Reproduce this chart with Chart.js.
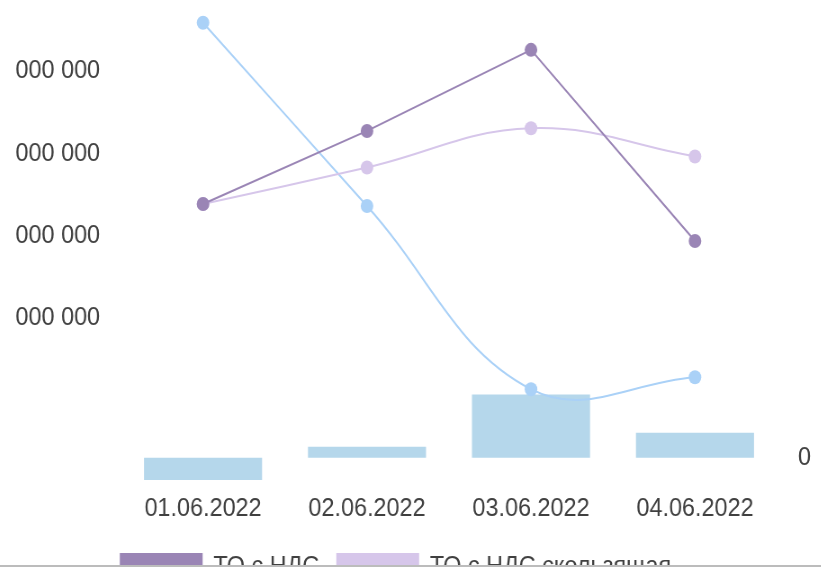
<!DOCTYPE html>
<html>
<head>
<meta charset="utf-8">
<script src="https://cdn.jsdelivr.net/npm/chart.js@4/dist/chart.umd.min.js"></script>
<style>
  html, body { margin: 0; padding: 0; background: #fff; }
  body { width: 821px; height: 570px; overflow: hidden; position: relative; }
  /* panel that clips the chart on the left and at the bottom */
  #frame {
    position: absolute; left: 14px; top: 0; width: 807px; height: 565px;
    overflow: hidden;
  }
  /* chart drawn on a wider canvas, then narrowed horizontally */
  #holder {
    position: absolute; left: -24px; top: -2px; width: 924px; height: 592px;
    transform: scaleX(0.9); transform-origin: 0 0;
  }
  #rule { position: absolute; left: 0; top: 565px; width: 821px; height: 2px; background: #bcbcbc; }
</style>
</head>
<body>
<div id="frame"><div id="holder"><canvas id="c"></canvas></div></div>
<div id="rule"></div>
<script>
// Dates on the category axis
const categories = ['01.06.2022', '02.06.2022', '03.06.2022', '04.06.2022'];

// Turnover with VAT and its running average (left axis)
const toWithVat = [3385000, 4272000, 5256000, 2936000];
const toWithVatRolling = [3385000, 3828500, 4304300, 3962300];
// Comparison turnover (left axis)
const toCompare = [5584000, 3361000, 1138000, 1284000];
// Deviation bars (right axis)
const deltaBars = [-110000, 55000, 315000, 125000];

// Tick values shown on each value axis
const leftTicks = [2000000, 3000000, 4000000, 5000000];
const rightTicks = [0];

const FONT = { family: '"Liberation Sans", Arial, sans-serif', size: 26 };
const TEXT = '#404040';

const fmt = v => String(v).replace(/\B(?=(\d{3})+(?!\d))/g, ' ');

const noEdgePad = s => { s.paddingTop = 0; s.paddingBottom = 0; s.paddingLeft = 0; s.paddingRight = 0; };

// Nudges the bottom legend row a little to the left of the canvas centre
const legendNudge = {
  id: 'legendNudge',
  afterLayout(chart) {
    const lg = chart.legend;
    if (lg) { lg.left -= 11; lg.right -= 11; }
  }
};

new Chart(document.getElementById('c'), {
  type: 'bar',
  data: {
    labels: categories,
    datasets: [
      {
        type: 'line', label: 'ТО с НДС', data: toWithVat, yAxisID: 'yL',
        borderColor: '#9a85b5', backgroundColor: '#9a85b5',
        borderWidth: 2, tension: 0, pointRadius: 7, pointHoverRadius: 7,
        pointBorderWidth: 0
      },
      {
        type: 'line', label: 'ТО с НДС скользящая', data: toWithVatRolling, yAxisID: 'yL',
        borderColor: '#d6c6ea', backgroundColor: '#d6c6ea',
        borderWidth: 2, tension: 0.4, pointRadius: 7, pointHoverRadius: 7,
        pointBorderWidth: 0
      },
      {
        type: 'line', label: 'ТО с НДС сравнение', data: toCompare, yAxisID: 'yL',
        borderColor: '#aad1f7', backgroundColor: '#aad1f7',
        borderWidth: 2, tension: 0.4, pointRadius: 7, pointHoverRadius: 7,
        pointBorderWidth: 0
      },
      {
        type: 'bar', label: 'Отклонение', data: deltaBars, yAxisID: 'yR',
        backgroundColor: '#b5d7eb', borderWidth: 0,
        barPercentage: 0.9, categoryPercentage: 0.8
      }
    ]
  },
  plugins: [legendNudge],
  options: {
    responsive: true,
    maintainAspectRatio: false,
    animation: false,
    layout: { padding: { top: 3, left: 0, right: 0, bottom: 0 } },
    plugins: {
      tooltip: { enabled: false },
      legend: {
        position: 'bottom',
        labels: {
          font: FONT, color: TEXT, boxWidth: 90, padding: 20,
          filter: item => item.datasetIndex < 2
        }
      }
    },
    scales: {
      x: {
        grid: { display: false, drawTicks: false },
        border: { display: false },
        afterFit: s => { noEdgePad(s); s.height = 51; },
        ticks: { font: FONT, color: TEXT, padding: 10, maxRotation: 0 }
      },
      yL: {
        position: 'left', min: 0, max: 5800000,
        grid: { display: false, drawTicks: false },
        border: { display: false },
        afterBuildTicks: s => { s.ticks = leftTicks.map(v => ({ value: v })); },
        afterFit: s => { noEdgePad(s); s.width = 145.6; },
        ticks: { font: FONT, color: TEXT, padding: 23.3, callback: v => fmt(v) }
      },
      yR: {
        position: 'right', min: -125000, max: 2250000,
        grid: { display: false, drawTicks: false },
        border: { display: false },
        afterBuildTicks: s => { s.ticks = rightTicks.map(v => ({ value: v })); },
        afterFit: s => { noEdgePad(s); s.width = 49.6; },
        ticks: { font: FONT, color: TEXT, padding: 23.3, callback: v => fmt(v) }
      }
    }
  }
});
</script>
</body>
</html>
